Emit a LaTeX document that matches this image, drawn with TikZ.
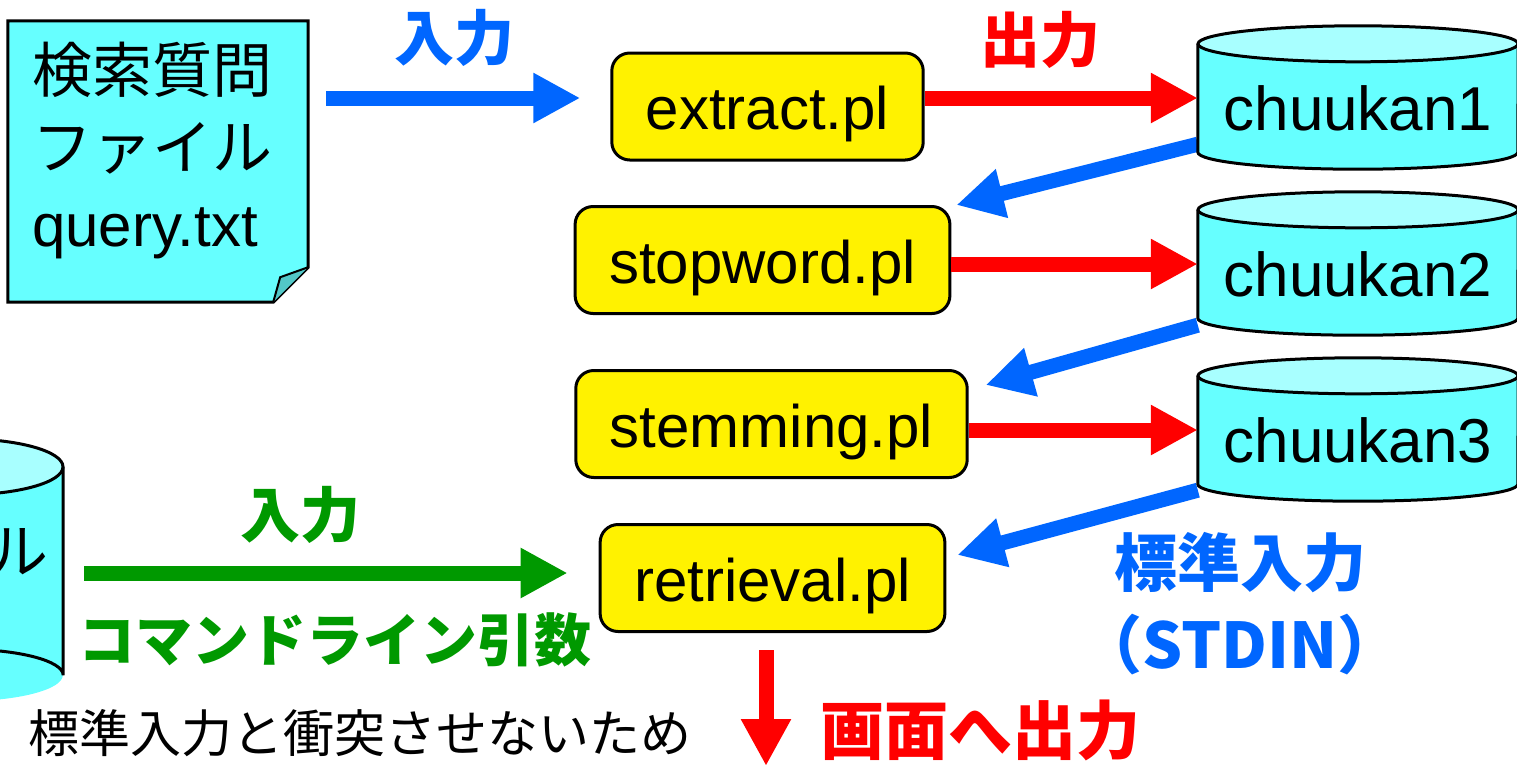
\documentclass[tikz,border=0pt]{standalone}
\usepackage{fontspec}
\setmainfont{Liberation Sans}
\newfontfamily\jp{Noto Sans CJK JP}
\usetikzlibrary{arrows.meta}

\definecolor{flowblue}{HTML}{0066FF}
\definecolor{flowred}{HTML}{FF0000}
\definecolor{flowgreen}{HTML}{009900}
\definecolor{cylside}{HTML}{66FFFF}
\definecolor{cyltop}{HTML}{A8FFFF}
\definecolor{docfold}{HTML}{52C8C8}

\tikzset{
  prog/.style={draw, line width=3pt, rounded corners=18pt, fill=yellow,
    minimum height=107pt, inner xsep=34pt, text height=46pt, text depth=0pt,
    font=\fontsize{60}{72}\selectfont},
  db/.style={minimum width=320pt, minimum height=108pt, inner sep=0pt,
    text height=64pt, text depth=0pt, font=\fontsize{62}{74}\selectfont},
  flow/.style={line width=15pt, -{Triangle[length=47pt,width=47pt]}},
  tag/.style={font=\jp\bfseries\fontsize{60}{72}\selectfont},
}

\begin{document}
\begin{tikzpicture}[x=1pt,y=-1pt]
    \useasboundingbox (0,0) rectangle (1517,764);
    \clip (0,0) rectangle (1517,764);

    % Query file
    \node[minimum width=300pt, minimum height=281pt, inner sep=0pt] (doc) at (158,161.5) {};
    \draw[line width=3pt, fill=cylside] (doc.north west) -- (doc.north east)
        -- ([yshift=35pt]doc.south east) -- ([xshift=-35pt]doc.south east)
        -- (doc.south west) -- cycle;
    \draw[line width=2pt, fill=docfold] ([yshift=35pt]doc.south east)
        -- ([xshift=-28pt,yshift=25pt]doc.south east) -- ([xshift=-35pt]doc.south east);
    \node[anchor=north west, align=left, inner sep=0pt, font=\fontsize{60}{77}\selectfont]
        (doctext) at (32,42) {{\jp 検索質問}\\{\jp ファイル}\\query.txt};

    % Left file (cut off)
    \node[minimum width=200pt, minimum height=208pt, inner sep=0pt] (lcyl) at (-37,571) {};
    \fill[cylside] (lcyl.north west) -- (lcyl.south west)
        arc[start angle=180, end angle=360, x radius=100pt, y radius=26pt]
        -- (lcyl.north east) -- cycle;
    \draw[line width=3pt, fill=cyltop] (lcyl.north) ellipse[x radius=100pt, y radius=28pt];
    \draw[line width=3pt] (lcyl.north east) -- (lcyl.south east)
        arc[start angle=0, end angle=180, x radius=100pt, y radius=26pt];
    \node[font=\jp\fontsize{60}{72}\selectfont] (lcyltext) at (18,552) {ル};

    % Programs
    \node[prog] (extract) at (767.5,106.5) {extract.pl};
    \node[prog] (stopword) at (762.5,260) {stopword.pl};
    \node[prog] (stemming) at (771.5,424) {stemming.pl};
    \node[prog] (retrieval) at (772.5,578) {retrieval.pl};

    % Intermediate files
    \node[db] (c1) at (1358,98) {};
    \node[db] (c2) at (1358,264) {};
    \node[db] (c3) at (1358,430) {};
    \coordinate (screen) at (766,766);

    % Standard input
    \draw[flow, flowblue] ([yshift=8pt]c1.south west) -- ([xshift=5pt]stopword.north east);
    \draw[flow, flowblue] ([yshift=-7pt]c2.south west) -- ([xshift=17pt,yshift=-16pt]stemming.north east);
    \draw[flow, flowblue] ([yshift=-6pt]c3.south west) -- ([xshift=11pt,yshift=-32pt]retrieval.north east);

    \foreach \c/\t in {c1/chuukan1, c2/chuukan2, c3/chuukan3} {
        \fill[cylside] (\c.north west) -- (\c.south west)
            arc[start angle=180, end angle=360, x radius=160pt, y radius=17pt]
            -- (\c.north east) -- cycle;
        \draw[line width=3pt, fill=cyltop] (\c.north) ellipse[x radius=160pt, y radius=18pt];
        \draw[line width=3pt] (\c.north west) -- (\c.south west)
            arc[start angle=180, end angle=360, x radius=160pt, y radius=17pt]
            -- (\c.north east);
        \node[db] at (\c) {\t};
    }

    % Output
    \draw[flow, flowred] (extract.east |- c1.west) -- (c1.west);
    \draw[flow, flowred] (stopword.east |- c2.west) -- (c2.west);
    \draw[flow, flowred] (stemming.east |- c3.west) -- (c3.west);
    \draw[flow, flowred, shorten <=17pt] (retrieval.south -| screen) -- (screen);

    % Input
    \draw[flow, flowblue, shorten <=18pt, shorten >=30pt] (doc.east |- c1.west) -- (extract.west |- c1.west);
    \draw[flow, flowgreen, shorten <=21pt, shorten >=31pt] ([yshift=5pt]lcyl.east |- retrieval.west) -- ([yshift=5pt]retrieval.west);

    % Labels
    \node[tag, text=flowblue] (inlabel) at (454,38) {入力};
    \node[tag, text=flowred] (outlabel) at (1040,40) {出力};
    \node[tag, text=flowgreen] (arglabel) at (300,515) {入力};
    \node[tag, text=flowgreen, font=\jp\bfseries\fontsize{57}{68}\selectfont] (cmdlabel) at (335,640) {コマンドライン引数};
    \node[tag, text=flowblue, font=\jp\bfseries\fontsize{63}{72}\selectfont] (stdinlabel) at (1240,563) {標準入力};
    \node[tag, text=flowblue, font=\jp\bfseries\fontsize{63}{72}\selectfont] (stdinname) at (1240,645) {（STDIN）};
    \node[tag, text=flowred, font=\jp\bfseries\fontsize{64}{72}\selectfont] (screenlabel) at (980,730) {画面へ出力};
    \node[font=\jp\fontsize{51}{60}\selectfont] (reason) at (360,733) {標準入力と衝突させないため};
\end{tikzpicture}
\end{document}
